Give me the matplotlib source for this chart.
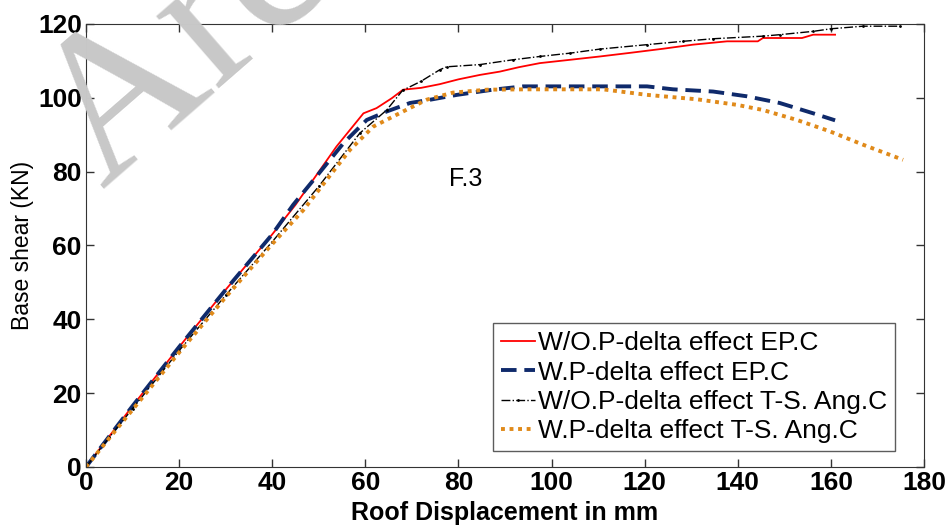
import matplotlib
matplotlib.use("Agg")
import matplotlib.pyplot as plt

# pushover curves
red_x = [0, 5, 10, 20, 30, 40, 45, 50.3, 53.8, 59.6, 62.4, 65.7, 68.1, 72, 76, 80, 84.6, 88.9,
         93, 97.5, 104, 110.4, 117, 124, 130.4, 137.7, 144.3, 145.4, 153.8, 156.2, 160.9]
red_y = [0, 8.3, 16.5, 32.5, 48, 63, 71, 80.5, 86.8, 95.8, 97.2, 99.9, 102.2, 102.7, 103.7,
         105, 106.2, 107.1, 108.3, 109.4, 110.3, 111.2, 112.2, 113.3, 114.4, 115.3, 115.3,
         116.2, 116.2, 117.1, 117.1]

blue_x = [0, 5, 10, 20, 30, 40, 44.5, 49.5, 55.3, 60.3, 64.6, 69.6, 74, 79.7, 87.4, 93.9, 105,
          120.5, 126.1, 134.7, 142, 149, 156.2, 160.9]
blue_y = [0, 8.3, 16.5, 32.5, 48, 63, 71, 78.7, 87.7, 94, 96.3, 98.6, 99.5, 100.8, 102.2,
          103.1, 103.1, 103.1, 102.3, 101.7, 100.4, 98.6, 95.8, 93.9]

black_x = [0, 5, 10, 20, 30, 40, 50, 58.8, 64.6, 68, 72, 76, 77.5, 84.6, 91.7, 97.5, 104,
           110.4, 120.5, 128.2, 134.7, 145.4, 149, 156.2, 160, 166.9, 174.8]
black_y = [0, 8, 15.8, 31.5, 46.5, 61, 76, 90.4, 96.7, 102, 104.5, 107.6, 108.4, 109, 110.3,
           111.2, 112.1, 113.2, 114.4, 115.3, 116, 116.7, 117.1, 118, 118.7, 119.4, 119.4]

orange_x = [0, 5, 10, 20, 30, 39.5, 46.7, 51.7, 56.7, 61.7, 68.9, 73.2, 78.8, 86.1, 95, 111,
            120.5, 131.2, 139.8, 145.4, 152.7, 159.8, 166.9, 175.5]
orange_y = [0, 7.8, 15.5, 31, 46, 59.7, 69.6, 77.8, 85.9, 92.2, 96.8, 99.5, 101.4, 102.2,
            102.3, 102.3, 100.8, 99.6, 98.1, 96.7, 94, 90.9, 87.3, 83.2]

labels = ["W/O.P-delta effect EP.C", "W.P-delta effect EP.C",
          "W/O.P-delta effect T-S. Ang.C", "W.P-delta effect T-S. Ang.C"]

plt.rcParams["font.family"] = ["Liberation Sans", "DejaVu Sans"]

fig = plt.figure(figsize=(9.52, 5.27), dpi=100)
ax = fig.add_axes([0.0903, 0.1139, 0.8803, 0.8406])
ax.patch.set_alpha(0)

# watermark of the source site, cut by the top edge as in the original
fig.text(0.108, 0.64, "Archive of SID", family="Liberation Serif", fontsize=150,
         color="#c8c8c8", rotation=41, rotation_mode="anchor", ha="left", va="baseline",
         zorder=0)

ax.plot(red_x, red_y, color="red", lw=1.3, label=labels[0])
ax.plot(blue_x, blue_y, color="#0f2a6b", lw=2.8, ls=(0, (4, 2)), label=labels[1])
ax.plot(black_x, black_y, color="black", lw=1.0, ls="-.", marker=".", markersize=2,
        label=labels[2])
ax.plot(orange_x, orange_y, color="#e08a1a", lw=2.8, ls=(0, (1, 1.2)), label=labels[3])

ax.set_xlim(0, 180)
ax.set_ylim(0, 120)
ax.set_xticks(range(0, 181, 20))
ax.set_yticks(range(0, 121, 20))
ax.tick_params(direction="in", top=True, right=True, length=6, width=1, colors="#333333",
               labelcolor="black", labelsize=19, pad=3)
for lab in ax.get_xticklabels() + ax.get_yticklabels():
    lab.set_fontweight("bold")
for s in ax.spines.values():
    s.set_color("#333333")

ax.set_xlabel("Roof Displacement in mm", fontsize=18, fontweight="bold", labelpad=4)
ax.set_ylabel("Base shear (KN)", fontsize=16.5, labelpad=3)

ax.text(78, 76, "F.3", fontsize=18)

leg = ax.legend(loc="lower right", bbox_to_anchor=(0.965, 0.036), fontsize=19,
                frameon=True, fancybox=False, edgecolor="#333333", handlelength=1.3,
                handletextpad=0.1, borderpad=0.3, labelspacing=0.2, borderaxespad=0)
leg.get_frame().set_linewidth(1)

fig.savefig("out.png", dpi=100)
